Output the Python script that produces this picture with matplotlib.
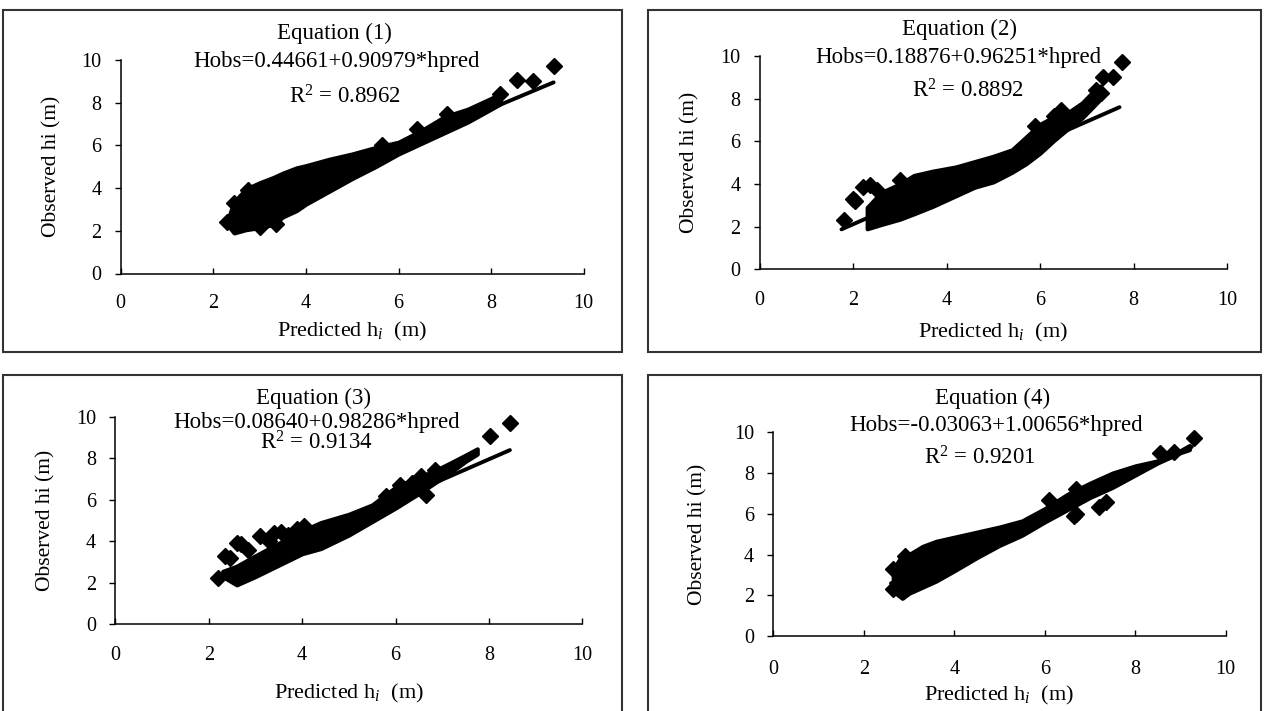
import matplotlib
matplotlib.use('Agg')
import matplotlib.pyplot as plt
import numpy as np
from matplotlib.patches import Rectangle


#------------------------------------------------------------------------------
# Data

titles = ['Equation (1)', 'Equation (2)', 'Equation (3)', 'Equation (4)']
equations = ['Hobs=0.44661+0.90979*hpred', 'Hobs=0.18876+0.96251*hpred',
             'Hobs=0.08640+0.98286*hpred', 'Hobs=-0.03063+1.00656*hpred']
r2_values = ['0.8962', '0.8892', '0.9134', '0.9201']

intercepts = [0.44661, 0.18876, 0.08640, -0.03063]
slopes = [0.90979, 0.96251, 0.98286, 1.00656]
pred_min = [2.3, 1.75, 2.2, 2.6]          # range of predicted hi (trend line ends)
pred_max = [9.35, 7.7, 8.45, 9.25]

ticks = [0, 2, 4, 6, 8, 10]

# dense cloud of points: edges of the band, panel by panel
band1_x  = [2.3, 2.45, 2.7, 3.0, 3.3, 3.5, 3.8, 4.0, 4.5, 5.0, 5.5, 6.0, 6.5, 7.0, 7.5, 8.0, 8.2]
band1_lo = [2.3, 1.9, 2.05, 2.15, 2.3, 2.65, 2.95, 3.25, 3.85, 4.45, 5.0, 5.6, 6.1, 6.6, 7.1, 7.7, 7.95]
band1_hi = [2.45, 3.35, 3.95, 4.25, 4.5, 4.7, 4.95, 5.05, 5.35, 5.6, 5.9, 6.15, 6.7, 7.35, 7.7, 8.2, 8.45]
out1_x = [2.3, 2.45, 2.75, 3.0, 3.35, 5.65, 6.4, 7.05, 8.2, 8.55, 8.9, 9.35]
out1_y = [2.4, 3.3, 3.9, 2.2, 2.3, 6.0, 6.75, 7.45, 8.4, 9.05, 9.0, 9.7]

band2_x  = [2.3, 2.6, 3.0, 3.3, 3.7, 4.2, 4.6, 5.0, 5.4, 5.7, 6.0, 6.3, 6.6, 6.9, 7.1, 7.3]
band2_lo = [1.9, 2.1, 2.35, 2.6, 2.95, 3.45, 3.85, 4.1, 4.55, 4.95, 5.45, 6.05, 6.6, 7.1, 7.55, 8.0]
band2_hi = [2.9, 3.6, 4.0, 4.4, 4.6, 4.8, 5.05, 5.3, 5.6, 6.2, 6.8, 7.15, 7.35, 7.8, 8.25, 8.6]
out2_x = [1.8, 2.0, 2.05, 2.2, 2.35, 2.5, 3.0, 5.9, 6.3, 6.45, 7.2, 7.3, 7.35, 7.55, 7.75]
out2_y = [2.3, 3.3, 3.2, 3.85, 3.95, 3.7, 4.2, 6.7, 7.2, 7.45, 8.4, 8.25, 9.0, 9.0, 9.7]

band3_x  = [2.3, 2.6, 3.0, 3.5, 4.0, 4.4, 5.0, 5.5, 6.0, 6.5, 6.8, 7.2, 7.5, 7.75]
band3_lo = [2.3, 1.9, 2.3, 2.85, 3.4, 3.65, 4.3, 4.95, 5.6, 6.3, 6.75, 7.35, 7.85, 8.2]
band3_hi = [2.55, 2.8, 3.3, 3.9, 4.5, 4.9, 5.3, 5.75, 6.6, 7.1, 7.35, 7.8, 8.15, 8.45]
out3_x = [2.2, 2.35, 2.45, 2.6, 2.7, 2.85, 3.1, 3.3, 3.4, 3.55, 3.7, 3.9, 4.05,
          5.8, 6.1, 6.35, 6.55, 6.65, 6.85, 8.02, 8.45]
out3_y = [2.25, 3.3, 3.2, 3.9, 3.85, 3.6, 4.25, 4.0, 4.4, 4.45, 4.3, 4.6, 4.75,
          6.2, 6.7, 6.8, 7.15, 6.25, 7.45, 9.05, 9.7]

band4_x  = [2.65, 2.85, 3.0, 3.3, 3.6, 4.0, 4.5, 5.0, 5.5, 6.0, 6.5, 7.0, 7.5, 8.0, 8.5, 9.0, 9.2]
band4_lo = [2.2, 1.85, 2.1, 2.4, 2.7, 3.2, 3.85, 4.45, 4.95, 5.6, 6.2, 6.8, 7.3, 7.9, 8.5, 9.0, 9.15]
band4_hi = [3.3, 3.95, 4.0, 4.4, 4.65, 4.85, 5.1, 5.35, 5.65, 6.25, 6.95, 7.5, 8.0, 8.35, 8.6, 9.1, 9.35]
out4_x = [2.65, 2.65, 2.9, 6.1, 6.65, 6.7, 6.7, 7.2, 7.35, 8.55, 8.85, 9.3]
out4_y = [2.3, 3.3, 3.95, 6.7, 5.9, 6.0, 7.2, 6.35, 6.6, 9.0, 9.05, 9.7]

bands = [(band1_x, band1_lo, band1_hi, out1_x, out1_y),
         (band2_x, band2_lo, band2_hi, out2_x, out2_y),
         (band3_x, band3_lo, band3_hi, out3_x, out3_y),
         (band4_x, band4_lo, band4_hi, out4_x, out4_y)]


#------------------------------------------------------------------------------
# Layout (pixels of the 1264x711 picture)

W, H = 1264, 711

def fx(x):
    return x / W

def fy(y):
    return 1 - y / H

axes_px = [(120.7, 583.7, 273.5, 60.0), (759.7, 1227.0, 269.3, 56.0),
           (115.3, 582.3, 624.3, 416.7), (773.4, 1225.6, 636.0, 432.3)]
box_px = [(3, 10, 622, 352), (648, 10, 1261, 352),
          (3, 375, 622, 716), (648, 375, 1261, 716)]
title_px = [(334, 33), (959, 29), (314, 398), (993, 398)]
eq_px = [(337, 61), (958, 57), (317, 423), (996, 426)]
r2_px = [(345, 97), (968, 91), (316, 443), (980, 458)]
xlab_y = [-0.273, -0.294, -0.332, -0.29]
ylab_x = [-0.148, -0.149, -0.148, -0.166]
xtick_pad = [15, 15.5, 15.3, 17]

plt.rcParams['font.family'] = ['Liberation Serif', 'DejaVu Serif']
plt.rcParams['mathtext.fontset'] = 'custom'
plt.rcParams['mathtext.rm'] = 'Liberation Serif'
plt.rcParams['mathtext.it'] = 'Liberation Serif:italic'

fig = plt.figure(figsize=(12.64, 7.11), dpi=100)

for i in range(4):
    x0, x10, y0, y10 = axes_px[i]
    ax = fig.add_axes([fx(x0), fy(y0), (x10 - x0) / W, (y0 - y10) / H])

    # the thousands of overlapping diamonds read as one solid band
    bx, lo, hi, ox, oy = bands[i]
    ax.fill_between(bx, lo, hi, facecolor='black', edgecolor='black', lw=3)
    ax.plot(ox, oy, 'kD', ms=8, clip_on=False)

    xs = np.array([pred_min[i], pred_max[i]])
    ax.plot(xs, intercepts[i] + slopes[i] * xs, 'k-', lw=2.8,
            solid_capstyle='round')

    ax.set_xlim(0, 10)
    ax.set_ylim(0, 10)
    ax.set_xticks(ticks)
    ax.set_yticks(ticks)
    for s in ['top', 'right']:
        ax.spines[s].set_visible(False)
    for s in ['left', 'bottom']:
        ax.spines[s].set_linewidth(1.1)
    ax.tick_params(axis='y', direction='out', length=4, width=1, pad=10,
                   labelsize=14.5)
    ax.tick_params(axis='x', direction='in', length=4, width=1,
                   pad=xtick_pad[i], labelsize=14.5)

    ax.set_xlabel(r'Predicted h$_i$  (m)', fontsize=16)
    ax.xaxis.label.set_va('center')
    ax.xaxis.set_label_coords(0.5, xlab_y[i])
    ax.set_ylabel('Observed hi (m)', fontsize=15.5)
    ax.yaxis.label.set_va('center')
    ax.yaxis.set_label_coords(ylab_x[i], 0.5)

    fig.text(fx(title_px[i][0]), fy(title_px[i][1]), titles[i],
             ha='center', va='center', fontsize=16.5)
    fig.text(fx(eq_px[i][0]), fy(eq_px[i][1]), equations[i],
             ha='center', va='center', fontsize=16.5)
    fig.text(fx(r2_px[i][0]), fy(r2_px[i][1]), r'R$^2$ = ' + r2_values[i],
             ha='center', va='center', fontsize=16.5)

    bx0, by0, bx1, by1 = box_px[i]
    fig.patches.append(Rectangle((fx(bx0), fy(by1)), (bx1 - bx0) / W,
                                 (by1 - by0) / H, transform=fig.transFigure,
                                 fill=False, ec='#333333', lw=1.5))

fig.savefig('out.png', dpi=100)
